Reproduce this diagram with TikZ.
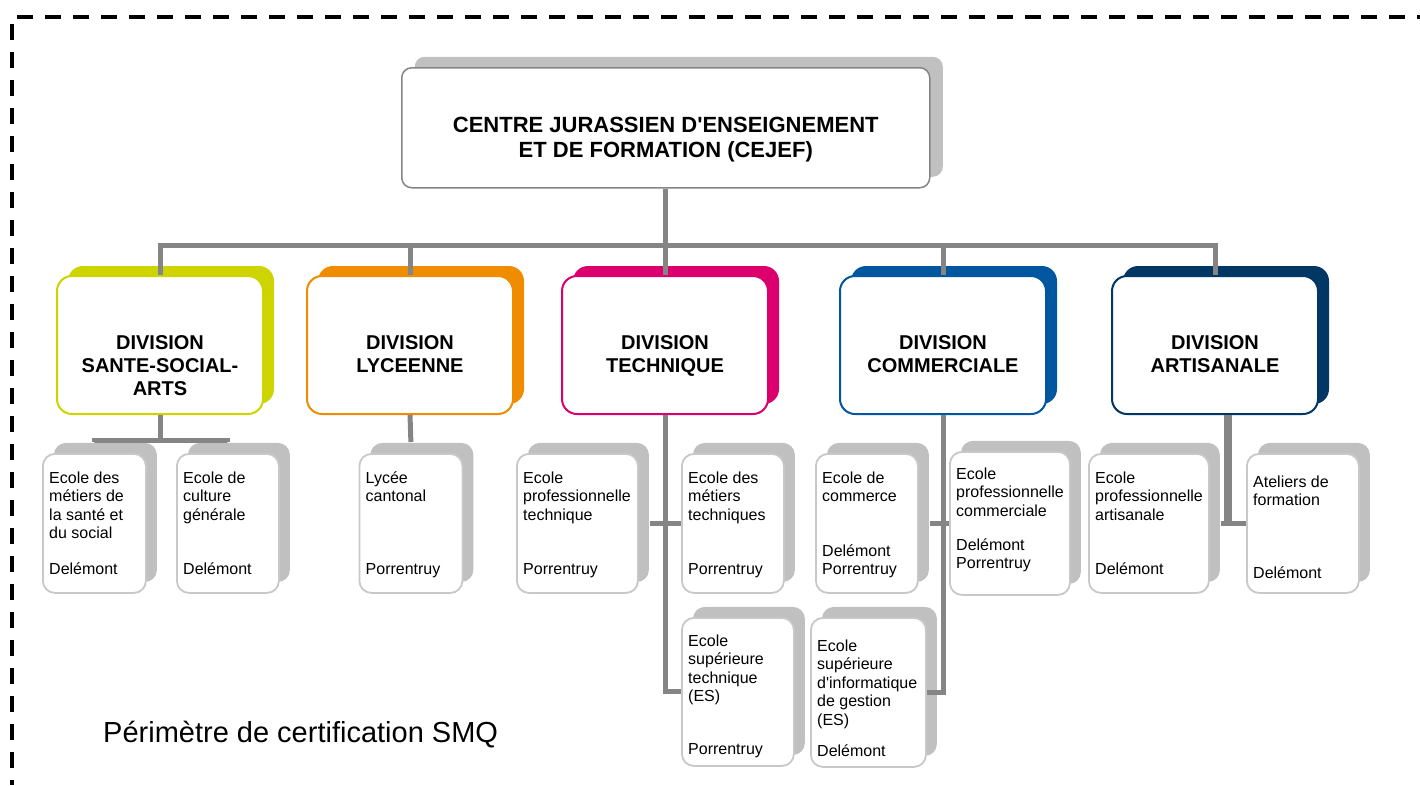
\documentclass[tikz,border=0pt]{standalone}
\usepackage{fontspec}
\setmainfont{Liberation Sans}[Ligatures=TeXOff]
\usetikzlibrary{positioning,shadows}

\definecolor{santecol}{HTML}{CDD400}
\definecolor{lyceecol}{HTML}{F08C00}
\definecolor{techcol}{HTML}{DC006E}
\definecolor{commcol}{HTML}{00569F}
\definecolor{artcol}{HTML}{003764}
\definecolor{shadowgray}{HTML}{C0C0C0}
\definecolor{edgegray}{HTML}{C8C8C8}
\definecolor{linkgray}{HTML}{858585}

\begin{document}
\begin{tikzpicture}[x=1pt, y=-1pt,
    link/.style={draw=linkgray, line width=5pt},
    frame/.style={line width=4pt, dash pattern=on 16pt off 12pt},
    cejefbox/.style={draw=linkgray, fill=white, line width=1.5pt, rounded corners=10pt,
        general shadow={shadow xshift=13pt, shadow yshift=11pt, fill=shadowgray},
        minimum width=528pt, minimum height=120pt, anchor=north west},
    divbox/.style={draw=#1, fill=white, line width=2pt, rounded corners=15pt,
        general shadow={shadow xshift=11pt, shadow yshift=10pt, fill=#1},
        minimum width=206pt, minimum height=138pt, anchor=north},
    schoolbox/.style={draw=edgegray, fill=white, line width=1.8pt, rounded corners=12pt,
        general shadow={shadow xshift=11pt, shadow yshift=11pt, fill=shadowgray},
        minimum height=139pt, anchor=north west},
    headtext/.style={align=center, inner sep=0pt, font=\bfseries\fontsize{20}{23}\selectfont},
    schooltext/.style={align=left, inner sep=0pt, font=\fontsize{16}{18.5}\selectfont}]
    \useasboundingbox (0,0) rectangle (1420,785);

    % perimetre
    \draw[frame] (12,24) -- (12,785);
    \draw[frame] (17,17) -- (1420,17);

    % CEJEF
    \node[cejefbox] (cejef) at (401,67) {};
    \node[headtext, font=\bfseries\fontsize{22}{25}\selectfont, below=48pt of cejef.north] (cejeft)
        {\strut CENTRE JURASSIEN D'ENSEIGNEMENT\\ET DE FORMATION (CEJEF)};

    % divisions
    \node[divbox=santecol] (d1) at (160,275) {};
    \node[divbox=lyceecol] (d2) at (410,275) {};
    \node[divbox=techcol] (d3) at (665,275) {};
    \node[divbox=commcol] (d4) at (943,275) {};
    \node[divbox=artcol] (d5) at (1215,275) {};
    \node[headtext, below=58pt of d1.north] (d1t) {\strut DIVISION\\SANTE-SOCIAL-\\ARTS};
    \node[headtext, below=58pt of d2.north] (d2t) {\strut DIVISION\\LYCEENNE};
    \node[headtext, below=58pt of d3.north] (d3t) {\strut DIVISION\\TECHNIQUE};
    \node[headtext, below=58pt of d4.north] (d4t) {\strut DIVISION\\COMMERCIALE};
    \node[headtext, below=58pt of d5.north] (d5t) {\strut DIVISION\\ARTISANALE};

    % ecoles
    \node[schoolbox, minimum width=103pt] (s1) at (42,453) {};
    \node[schooltext, below right=17pt and 7pt of s1.north west] (s1t) {\strut Ecole des\\métiers de\\la santé et\\du social};
    \node[schooltext, above right=13.5pt and 7pt of s1.south west] (s1p) {Delémont\strut};

    \node[schoolbox, minimum width=102pt] (s2) at (176,453) {};
    \node[schooltext, below right=17pt and 7pt of s2.north west] (s2t) {\strut Ecole de\\culture\\générale};
    \node[schooltext, above right=13.5pt and 7pt of s2.south west] (s2p) {Delémont\strut};

    \node[schoolbox, minimum width=103pt] (s3) at (358.5,453) {};
    \node[schooltext, below right=17pt and 7pt of s3.north west] (s3t) {\strut Lycée\\cantonal};
    \node[schooltext, above right=13.5pt and 7pt of s3.south west] (s3p) {Porrentruy\strut};

    \node[schoolbox, minimum width=121pt] (s4) at (516,453) {};
    \node[schooltext, below right=17pt and 7pt of s4.north west] (s4t) {\strut Ecole\\professionnelle\\technique};
    \node[schooltext, above right=13.5pt and 7pt of s4.south west] (s4p) {Porrentruy\strut};

    \node[schoolbox, minimum width=102pt] (s5) at (681,453) {};
    \node[schooltext, below right=17pt and 7pt of s5.north west] (s5t) {\strut Ecole des\\métiers\\techniques};
    \node[schooltext, above right=13.5pt and 7pt of s5.south west] (s5p) {Porrentruy\strut};

    \node[schoolbox, minimum width=112pt, minimum height=148pt] (s6) at (681,617) {};
    \node[schooltext, below right=16pt and 7pt of s6.north west] (s6t) {\strut Ecole\\supérieure\\technique\\(ES)};
    \node[schooltext, above right=6.5pt and 7pt of s6.south west] (s6p) {Porrentruy\strut};

    \node[schoolbox, minimum width=102pt] (s7) at (815,453) {};
    \node[schooltext, below right=17pt and 7pt of s7.north west] (s7t) {\strut Ecole de\\commerce};
    \node[schooltext, above right=13.5pt and 7pt of s7.south west] (s7p) {Delémont\\Porrentruy\strut};

    \node[schoolbox, minimum width=120pt, minimum height=143pt] (s8) at (949,451) {};
    \node[schooltext, below right=15pt and 7pt of s8.north west] (s8t) {\strut Ecole\\professionnelle\\commerciale};
    \node[schooltext, above right=21.5pt and 7pt of s8.south west] (s8p) {Delémont\\Porrentruy\strut};

    \node[schoolbox, minimum width=115pt, minimum height=149pt] (s9) at (810,617) {};
    \node[schooltext, below right=21pt and 7pt of s9.north west] (s9t) {\strut Ecole\\supérieure\\d'informatique\\de gestion\\(ES)};
    \node[schooltext, above right=5.5pt and 7pt of s9.south west] (s9p) {Delémont\strut};

    \node[schoolbox, minimum width=120pt] (s10) at (1088,453) {};
    \node[schooltext, below right=17pt and 7pt of s10.north west] (s10t) {\strut Ecole\\professionnelle\\artisanale};
    \node[schooltext, above right=13.5pt and 7pt of s10.south west] (s10p) {Delémont\strut};

    \node[schoolbox, minimum width=112pt] (s11) at (1246,453) {};
    \node[schooltext, below right=21pt and 7pt of s11.north west] (s11t) {\strut Ateliers de\\formation};
    \node[schooltext, above right=9.5pt and 7pt of s11.south west] (s11p) {Delémont\strut};

    % liaisons
    \draw[link] (cejef.south) -- ++(0,57) coordinate (bus);
    \foreach \d in {d1,d2,d3,d4,d5}
        \draw[link] (bus) -| (\d.north);
    \draw[link] (d1.south) -- ++(0,25) -| ([yshift=11pt]s1.north);
    \draw[link] (d1.south) -- ++(0,25) -| ([yshift=11pt]s2.north);
    \draw[link] (d2.south) -- ([yshift=11pt]s3.north);
    \draw[link] (d3.south) |- (s6.west);
    \draw[link] ([xshift=11pt]s4.east) -- (s5.west);
    \draw[link] (d4.south) |- (s9.east);
    \draw[link] ([xshift=11pt]s7.east) -- (s8.west);
    \coordinate (d5drop) at ([xshift=13pt]d5.south);
    \draw[link, line width=8pt] (d5drop) -- (d5drop |- s11.west);
    \draw[link] ([xshift=11pt]s10.east) -- (s11.west);

    \node[anchor=base west, inner sep=0pt, font=\fontsize{29}{33}\selectfont] (smq) at (103,742)
        {Périmètre de certification SMQ};
\end{tikzpicture}
\end{document}
